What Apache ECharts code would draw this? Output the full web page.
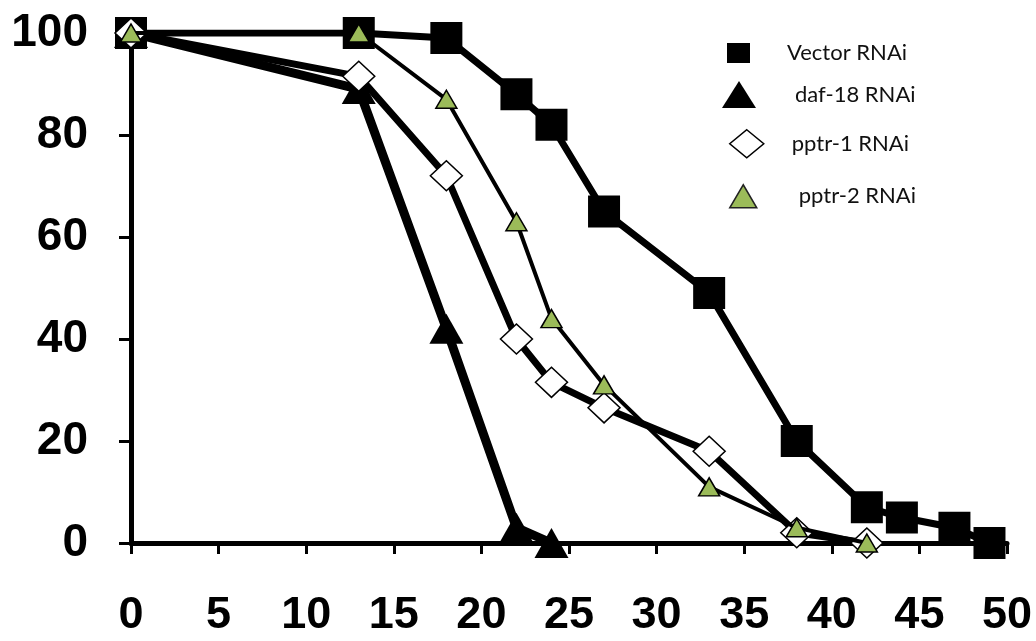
<!DOCTYPE html>
<html>
<head>
<meta charset="utf-8">
<script src="https://cdn.jsdelivr.net/npm/echarts@6/dist/echarts.min.js"></script>
<style>
  html, body { margin: 0; padding: 0; background: #fff; }
  #chart { width: 1036px; height: 641px; }
</style>
</head>
<body>
<div id="chart"></div>
<script>
// Survival (%) against age in days for four RNAi treatments
const xTicks = [0, 5, 10, 15, 20, 25, 30, 35, 40, 45, 50];
const yTicks = [0, 20, 40, 60, 80, 100];

const vectorDays = [0, 13, 18, 22, 24, 27, 33, 38, 42, 44, 47, 49];
const vectorSurv = [100, 100, 99, 88, 82, 65, 49, 20, 7, 5, 3, 0];

const daf18Days = [0, 13, 18, 22, 24];
const daf18Surv = [100, 89, 42, 3, 0];

const pptr1Days = [0, 13, 18, 22, 24, 27, 33, 38, 42];
const pptr1Surv = [100, 91.5, 72, 40, 31.5, 26.5, 18, 2, 0];

const pptr2Days = [0, 13, 18, 22, 24, 27, 33, 38, 42];
const pptr2Surv = [100, 100, 87, 63, 44, 31, 11, 3, 0];

const seriesNames = ['Vector RNAi', 'daf-18 RNAi', 'pptr-1 RNAi', 'pptr-2 RNAi'];
const GREEN = '#9bbb59';

const pairs = (xs, ys) => xs.map((x, i) => [x, ys[i]]);

const chart = echarts.init(document.getElementById('chart'), null, { renderer: 'canvas' });

const legendText = { fontFamily: 'Lato, "Liberation Sans", sans-serif', fontSize: 22, color: '#111' };
const tickFont = { color: '#000', fontFamily: '"Liberation Sans", Arial, sans-serif', fontWeight: 'bold' };

chart.setOption({
  animation: false,
  backgroundColor: '#fff',
  grid: { left: 131, top: 33, width: 876, height: 510, containLabel: false },
  xAxis: {
    type: 'value',
    min: xTicks[0],
    max: xTicks[xTicks.length - 1],
    interval: 5,
    axisLine: { onZero: false, lineStyle: { color: '#000', width: 5 } },
    axisTick: { show: true, inside: false, length: 11, lineStyle: { color: '#000', width: 3 } },
    axisLabel: Object.assign({ margin: 50, fontSize: 45 }, tickFont),
    splitLine: { show: false }
  },
  yAxis: {
    type: 'value',
    min: yTicks[0],
    max: yTicks[yTicks.length - 1],
    interval: 20,
    axisLine: { show: true, onZero: false, lineStyle: { color: '#000', width: 5 } },
    axisTick: { show: true, inside: false, length: 12, lineStyle: { color: '#000', width: 3 } },
    axisLabel: Object.assign({ margin: 43, fontSize: 46 }, tickFont),
    splitLine: { show: false }
  },
  legend: [
    {
      left: 722, top: 37, itemWidth: 23, itemHeight: 20, selectedMode: false,
      textStyle: Object.assign({ padding: [0, 0, 4, 32] }, legendText),
      data: [{ name: seriesNames[0], icon: 'rect', itemStyle: { color: '#000', borderWidth: 0 } }]
    },
    {
      left: 717, top: 76, itemWidth: 34, itemHeight: 27, selectedMode: false,
      textStyle: Object.assign({ padding: [0, 0, 8, 34] }, legendText),
      data: [{ name: seriesNames[1], icon: 'triangle', itemStyle: { color: '#000', borderWidth: 0 } }]
    },
    {
      left: 724, top: 124, itemWidth: 34, itemHeight: 28, selectedMode: false,
      textStyle: Object.assign({ padding: [0, 0, 2, 23] }, legendText),
      data: [{ name: seriesNames[2], icon: 'diamond', itemStyle: { color: '#fff', borderColor: '#000', borderWidth: 1.5 } }]
    },
    {
      left: 724, top: 179, itemWidth: 27, itemHeight: 23, selectedMode: false,
      textStyle: Object.assign({ padding: [0, 0, 0, 37] }, legendText),
      data: [{ name: seriesNames[3], icon: 'triangle', itemStyle: { color: GREEN, borderColor: '#222', borderWidth: 1.5 } }]
    }
  ],
  series: [
    {
      name: seriesNames[0], type: 'line', z: 2,
      data: pairs(vectorDays, vectorSurv),
      symbol: 'rect', symbolSize: 32,
      lineStyle: { color: '#000', width: 7 },
      itemStyle: { color: '#000', borderWidth: 0 }
    },
    {
      name: seriesNames[1], type: 'line', z: 3,
      data: pairs(daf18Days, daf18Surv),
      symbol: 'triangle', symbolSize: [34, 30],
      lineStyle: { color: '#000', width: 9 },
      itemStyle: { color: '#000', borderWidth: 0 }
    },
    {
      name: seriesNames[2], type: 'line', z: 4,
      data: pairs(pptr1Days, pptr1Surv),
      symbol: 'diamond', symbolSize: [32, 30],
      lineStyle: { color: '#000', width: 7 },
      itemStyle: { color: '#fff', borderColor: '#000', borderWidth: 1.5 }
    },
    {
      name: seriesNames[3], type: 'line', z: 5,
      data: pairs(pptr2Days, pptr2Surv),
      symbol: 'triangle', symbolSize: [21, 18],
      lineStyle: { color: '#000', width: 4 },
      itemStyle: { color: GREEN, borderColor: '#000', borderWidth: 1.5 }
    }
  ]
});
</script>
</body>
</html>
